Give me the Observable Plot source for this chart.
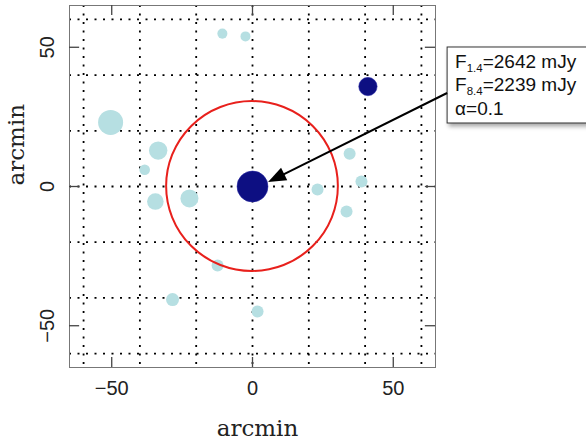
<!DOCTYPE html>
<html>
<head>
<meta charset="utf-8">
<script src="https://cdn.jsdelivr.net/npm/d3@7"></script>
<script src="https://cdn.jsdelivr.net/npm/@observablehq/plot@0.6"></script>
<style>
  html, body { margin: 0; padding: 0; background: #fff; overflow: hidden; }
</style>
</head>
<body>
<div id="chart"></div>
<script>
// Radio sources around the target field (offsets in arcmin)
const srcX     = [-10.7, -2.5, -50.4, -33.5, -38.3, -34.5, -22.4, 34.5, 38.7, 23.1, 33.4, -12.4, -28.4, 1.8, 41.0, 0.0];
const srcY     = [54.9, 53.9, 23.0, 12.9, 6.0, -5.4, -4.3, 11.8, 1.8, -1.1, -9.0, -28.4, -40.6, -44.9, 35.9, 0.0];
const srcFlux  = [275, 275, 1718, 931, 309, 758, 891, 396, 396, 396, 396, 396, 465, 396, 931, 2642];
const srcClass = ["steep", "steep", "steep", "steep", "steep", "steep", "steep", "steep", "steep", "steep", "steep", "steep", "steep", "steep", "flat", "flat"];

// Axis ticks and grid positions
const axisTicks = [-50, 0, 50];
const gridLines = [-60, -40, -20, 0, 20, 40, 60];
const fieldDomain = [-65, 65];
const tickLength = 3.6; // arcmin, inward tick length

// Beam / search radius around the target (arcmin)
const searchRadius = 30.5;

// Annotation for the central source
const fluxLabels = ["1.4", "8.4"];
const fluxValues = [2642, 2239];
const spectralIndex = 0.1;
const arrowFrom = [69.3, 33.4];  // arcmin, on the callout edge
const arrowTo = [5.7, 1.4];      // arcmin, edge of central source

const sources = srcX.map((x, i) => ({x, y: srcY[i], flux: srcFlux[i], cls: srcClass[i]}));

const classColor = {steep: "#b6dfe2", flat: "#0d0f82"};
const sansFont = "'Liberation Sans', Arial, sans-serif";
const [lo, hi] = fieldDomain;

const searchCircle = (index, {x, y}) => {
  return d3.create("svg:ellipse")
    .attr("cx", x(0)).attr("cy", y(0))
    .attr("rx", x(searchRadius) - x(0))
    .attr("ry", y(0) - y(searchRadius))
    .attr("fill", "none")
    .attr("stroke", "#e8201c")
    .attr("stroke-width", 2)
    .node();
};

const callout = (index, {x, y}) => {
  const g = d3.create("svg:g").attr("text-anchor", "start");
  const ax = x(arrowFrom[0]), ay = y(arrowFrom[1]);
  const tx = x(arrowTo[0]), ty = y(arrowTo[1]);
  const ang = Math.atan2(ty - ay, tx - ax);
  const headLen = 18, headHalf = 7;
  const bx = tx - headLen * Math.cos(ang), by = ty - headLen * Math.sin(ang);
  const nx = -Math.sin(ang), ny = Math.cos(ang);

  // box with soft shadow
  const boxTop = ay - 46, boxH = 76, boxW = 150;
  g.append("rect")
    .attr("x", ax).attr("y", boxTop).attr("width", boxW).attr("height", boxH)
    .attr("fill", "#fff").attr("stroke", "#333").attr("stroke-width", 1)
    .style("filter", "drop-shadow(2px 3px 2px rgba(0,0,0,0.35))");

  // arrow shaft and filled head
  g.append("line")
    .attr("x1", ax).attr("y1", ay).attr("x2", bx + 4 * Math.cos(ang)).attr("y2", by + 4 * Math.sin(ang))
    .attr("stroke", "#000").attr("stroke-width", 2);
  g.append("path")
    .attr("d", `M${tx},${ty}L${bx + headHalf * nx},${by + headHalf * ny}L${bx - headHalf * nx},${by - headHalf * ny}Z`)
    .attr("fill", "#000");

  const lineY = [boxTop + 21, boxTop + 44, boxTop + 68];
  fluxLabels.forEach((lab, i) => {
    const t = g.append("text")
      .attr("x", ax + 8).attr("y", lineY[i])
      .attr("font-family", sansFont)
      .attr("font-size", 19).attr("fill", "#111");
    t.append("tspan").text("F");
    t.append("tspan").attr("font-size", 11.5).attr("dy", 4.5).text(lab);
    t.append("tspan").attr("dy", -4.5).text(`=${fluxValues[i]} mJy`);
  });
  g.append("text")
    .attr("x", ax + 8).attr("y", lineY[2])
    .attr("font-family", sansFont)
    .attr("font-size", 19).attr("fill", "#111")
    .text(`α=${spectralIndex.toFixed(1)}`);
  return g.node();
};

const tickStyle = {stroke: "#444", strokeWidth: 1.3};
const minusFormat = d => d < 0 ? `\u2212${-d}` : `${d}`;

const chart = Plot.plot({
  width: 586,
  height: 448,
  marginLeft: 69,
  marginRight: 151,
  marginTop: 5,
  marginBottom: 81,
  style: {fontFamily: sansFont, fontSize: "20px", color: "#222", background: "#fff", overflow: "visible"},
  x: {domain: fieldDomain, label: null},
  y: {domain: fieldDomain, label: null},
  r: {type: "sqrt", domain: [0, 2642], range: [0, 15.5]},
  marks: [
    Plot.gridX(gridLines, {stroke: "#000", strokeOpacity: 1, strokeWidth: 1.8, strokeDasharray: "2,6.5"}),
    Plot.gridY(gridLines, {stroke: "#000", strokeOpacity: 1, strokeWidth: 1.8, strokeDasharray: "2,6.5"}),
    Plot.dot(sources, {x: "x", y: "y", r: "flux", fill: d => classColor[d.cls], stroke: d => d.cls === "flat" ? "#2a2aa8" : "none", strokeWidth: 1, strokeOpacity: 0.5}),
    searchCircle,
    Plot.frame({stroke: "#777", strokeWidth: 1}),
    // inward ticks on all four sides
    Plot.ruleX(axisTicks, {x: d => d, y1: lo, y2: lo + tickLength, ...tickStyle}),
    Plot.ruleX(axisTicks, {x: d => d, y1: hi, y2: hi - tickLength, ...tickStyle}),
    Plot.ruleY(axisTicks, {y: d => d, x1: lo, x2: lo + tickLength, ...tickStyle}),
    Plot.ruleY(axisTicks, {y: d => d, x1: hi, x2: hi - tickLength, ...tickStyle}),
    // tick labels
    Plot.axisX(axisTicks, {anchor: "bottom", tickSize: 0, tickPadding: 13, fontSize: 20, label: null, tickFormat: minusFormat}),
    Plot.axisY(axisTicks, {anchor: "left", tickSize: 0, tickRotate: -90, tickPadding: 16, fontSize: 20, label: null, tickFormat: minusFormat}),
    // axis titles
    Plot.text(["arcmin"], {frameAnchor: "bottom", dx: 5, dy: 68, fontFamily: "'DejaVu Serif', serif", fontSize: 23, fill: "#222"}),
    Plot.text(["arcmin"], {frameAnchor: "left", rotate: -90, dx: -53, dy: -1, fontFamily: "'DejaVu Serif', serif", fontSize: 23, fill: "#222"}),
    callout
  ]
});

document.getElementById("chart").append(chart);
</script>
</body>
</html>
